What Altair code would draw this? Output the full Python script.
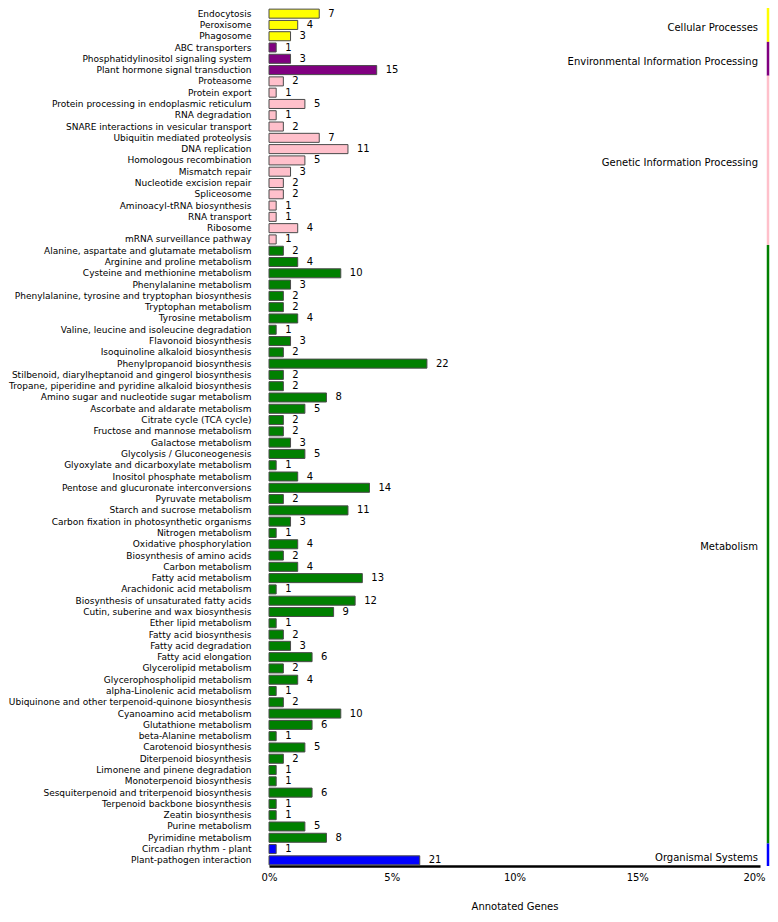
import altair as alt
import pandas as pd

TOTAL_GENES = 342  # annotated genes (denominator of the percentage axis)

groups = ["Cellular Processes", "Environmental Information Processing",
          "Genetic Information Processing", "Metabolism", "Organismal Systems"]
group_colors = ["#FFFF00", "#800080", "#FFC0CB", "#008000", "#0000FF"]

cellular_terms = ["Endocytosis", "Peroxisome", "Phagosome"]
cellular_counts = [7, 4, 3]

environmental_terms = ["ABC transporters", "Phosphatidylinositol signaling system",
                       "Plant hormone signal transduction"]
environmental_counts = [1, 3, 15]

genetic_terms = ["Proteasome", "Protein export", "Protein processing in endoplasmic reticulum",
                 "RNA degradation", "SNARE interactions in vesicular transport",
                 "Ubiquitin mediated proteolysis", "DNA replication", "Homologous recombination",
                 "Mismatch repair", "Nucleotide excision repair", "Spliceosome",
                 "Aminoacyl-tRNA biosynthesis", "RNA transport", "Ribosome",
                 "mRNA surveillance pathway"]
genetic_counts = [2, 1, 5, 1, 2, 7, 11, 5, 3, 2, 2, 1, 1, 4, 1]

metabolism_terms = [
    "Alanine, aspartate and glutamate metabolism", "Arginine and proline metabolism",
    "Cysteine and methionine metabolism", "Phenylalanine metabolism",
    "Phenylalanine, tyrosine and tryptophan biosynthesis", "Tryptophan metabolism",
    "Tyrosine metabolism", "Valine, leucine and isoleucine degradation",
    "Flavonoid biosynthesis", "Isoquinoline alkaloid biosynthesis",
    "Phenylpropanoid biosynthesis", "Stilbenoid, diarylheptanoid and gingerol biosynthesis",
    "Tropane, piperidine and pyridine alkaloid biosynthesis",
    "Amino sugar and nucleotide sugar metabolism", "Ascorbate and aldarate metabolism",
    "Citrate cycle (TCA cycle)", "Fructose and mannose metabolism", "Galactose metabolism",
    "Glycolysis / Gluconeogenesis", "Glyoxylate and dicarboxylate metabolism",
    "Inositol phosphate metabolism", "Pentose and glucuronate interconversions",
    "Pyruvate metabolism", "Starch and sucrose metabolism",
    "Carbon fixation in photosynthetic organisms", "Nitrogen metabolism",
    "Oxidative phosphorylation", "Biosynthesis of amino acids", "Carbon metabolism",
    "Fatty acid metabolism", "Arachidonic acid metabolism",
    "Biosynthesis of unsaturated fatty acids", "Cutin, suberine and wax biosynthesis",
    "Ether lipid metabolism", "Fatty acid biosynthesis", "Fatty acid degradation",
    "Fatty acid elongation", "Glycerolipid metabolism", "Glycerophospholipid metabolism",
    "alpha-Linolenic acid metabolism", "Ubiquinone and other terpenoid-quinone biosynthesis",
    "Cyanoamino acid metabolism", "Glutathione metabolism", "beta-Alanine metabolism",
    "Carotenoid biosynthesis", "Diterpenoid biosynthesis",
    "Limonene and pinene degradation", "Monoterpenoid biosynthesis",
    "Sesquiterpenoid and triterpenoid biosynthesis", "Terpenoid backbone biosynthesis",
    "Zeatin biosynthesis", "Purine metabolism", "Pyrimidine metabolism"]
metabolism_counts = [2, 4, 10, 3, 2, 2, 4, 1, 3, 2,
                     22, 2, 2, 8, 5, 2, 2, 3, 5, 1,
                     4, 14, 2, 11, 3, 1, 4, 2, 4, 13,
                     1, 12, 9, 1, 2, 3, 6, 2, 4, 1,
                     2, 10, 6, 1, 5, 2, 1, 1, 6, 1,
                     1, 5, 8]

organismal_terms = ["Circadian rhythm - plant", "Plant-pathogen interaction"]
organismal_counts = [1, 21]

x_ticks = [0, 5, 10, 15, 20]

group_terms = [cellular_terms, environmental_terms, genetic_terms, metabolism_terms, organismal_terms]
group_counts = [cellular_counts, environmental_counts, genetic_counts, metabolism_counts, organismal_counts]

rows = []
grows = []
idx = 0
for g, terms, counts in zip(groups, group_terms, group_counts):
    start = idx
    for t, c in zip(terms, counts):
        rows.append({"term": t, "count": c, "group": g, "idx": idx})
        idx += 1
    end = idx - 1
    grows.append({"group": g, "start": start - 0.5, "end": end + 0.5, "mid": (start + end) / 2})
n_rows = idx
order = [r["term"] for r in rows]

df = pd.DataFrame(rows)
gdf = pd.DataFrame(grows)

W, H = 491, 858
FONT = "DejaVu Sans"
color_scale = alt.Scale(domain=groups, range=group_colors)
yband = alt.Y("term:N", sort=order,
              scale=alt.Scale(paddingInner=0.2, paddingOuter=0.1),
              axis=alt.Axis(title=None, domain=False, ticks=False, labelPadding=18,
                            labelFontSize=9, labelFont=FONT, labelColor="black",
                            labelLimit=400))
xq = alt.X("pct:Q", scale=alt.Scale(domain=[0, 20], nice=False),
           axis=alt.Axis(title="Annotated Genes", values=x_ticks, labelExpr="datum.value + '%'",
                         grid=False, ticks=False, domainColor="black", domainWidth=2.5,
                         labelFontSize=10, labelFont=FONT, labelColor="black", labelPadding=6,
                         labelOffset={"expr": "datum.value == 20 ? -6 : 0"},
                         titleFontSize=10, titleFont=FONT, titleFontWeight="normal",
                         titleColor="black", titlePadding=19, labelFlush=False))

base = alt.Chart(df).transform_calculate(pct=f"datum.count / {TOTAL_GENES} * 100")

bars = base.mark_bar(stroke="#4a4a4a", strokeWidth=1).encode(
    y=yband, x=xq,
    color=alt.Color("group:N", scale=color_scale, legend=None))

vals = base.mark_text(align="left", baseline="middle", dx=9, fontSize=10, font=FONT,
                      color="black").encode(y=alt.Y("term:N", sort=order), x="pct:Q", text="count:Q")

yq = alt.Scale(domain=[-0.5, n_rows - 0.5], reverse=True, nice=False, zero=False)

glabels = alt.Chart(gdf).mark_text(align="right", baseline="middle", dy=3, fontSize=10,
                                    font=FONT, color="black").encode(
    y=alt.Y("mid:Q", scale=yq, axis=None), x=alt.value(W - 2), text="group:N")

strips = alt.Chart(gdf).mark_rule(strokeWidth=2.5).encode(
    y=alt.Y("start:Q", scale=yq, axis=None), y2="end:Q", x=alt.value(W + 8),
    color=alt.Color("group:N", scale=color_scale, legend=None))

chart = alt.layer(
    alt.layer(bars, vals),
    alt.layer(strips, glabels),
).resolve_scale(y="independent").properties(
    width=W, height=H,
    padding={"left": 261, "right": 10, "top": 0, "bottom": 48},
    autosize=alt.AutoSizeParams(type="none"),
    background="white",
).configure_view(stroke=None)

chart.save("out.html", embed_options={"renderer": "svg", "actions": False})
